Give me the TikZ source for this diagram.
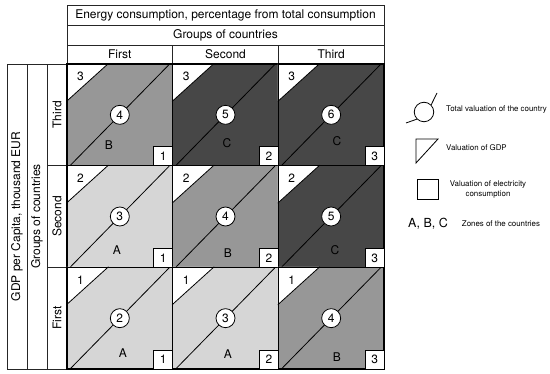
\documentclass[tikz,border=0pt]{standalone}
\usepackage{fontspec}
\setmainfont{TeX Gyre Heros}
\usetikzlibrary{calc}
\definecolor{lightz}{HTML}{D6D6D6}
\definecolor{midz}{HTML}{979797}
\definecolor{darkz}{HTML}{474747}
\begin{document}
\begin{tikzpicture}[x=1pt,y=-1pt,
  hdrbox/.style={draw=black!85, line width=0.6pt, inner sep=0pt, font=\fontsize{12}{12}\selectfont},
  cellbox/.style={draw=black, line width=1.1pt, minimum width=105.67pt, minimum height=101.67pt, inner sep=0pt},
  diag/.style={draw=black, line width=0.8pt},
  numcircle/.style={circle, draw=black, line width=0.8pt, fill=white, minimum size=19pt, inner sep=0pt, font=\fontsize{12}{12}\selectfont},
  numbox/.style={draw=black, line width=0.8pt, fill=white, minimum size=19pt, inner sep=0pt, font=\fontsize{12}{12}\selectfont},
  celltxt/.style={inner sep=0pt, font=\fontsize{12}{12}\selectfont},
  legtxt/.style={inner sep=0pt, font=\fontsize{7.9}{9.5}\selectfont, align=center}]
\useasboundingbox[fill=white] (0,0) rectangle (550,374);

% header
\node[hdrbox, minimum width=317pt, minimum height=20pt] (h1) at (225.5,15) {Energy consumption, percentage from total consumption};
\node[hdrbox, minimum width=317pt, minimum height=20pt] (h2) at (225.5,35) {Groups of countries};
\node[hdrbox, minimum width=105.67pt, minimum height=19pt] (hc1) at (119.83,54.5) {First};
\node[hdrbox, minimum width=105.67pt, minimum height=19pt] (hc2) at (225.5,54.5) {Second};
\node[hdrbox, minimum width=105.67pt, minimum height=19pt] (hc3) at (331.17,54.5) {Third};

% left columns
\node[hdrbox, rotate=90, minimum width=305pt, minimum height=20pt] (v1) at (17,216.5) {GDP per Capita, thousand EUR};
\node[hdrbox, rotate=90, minimum width=305pt, minimum height=20pt] (v2) at (37,216.5) {Groups of countries};
\node[hdrbox, rotate=90, minimum width=101.67pt, minimum height=20pt] (vr1) at (57,114.83) {Third};
\node[hdrbox, rotate=90, minimum width=101.67pt, minimum height=20pt] (vr2) at (57,216.5) {Second};
\node[hdrbox, rotate=90, minimum width=101.67pt, minimum height=20pt] (vr3) at (57,318.17) {First};

% cells
\foreach \r/\c/\col/\n/\t/\b/\z/\lx/\ly in {
  1/1/midz/4/3/1/B/109/145, 1/2/darkz/5/3/2/C/227/143, 1/3/darkz/6/3/3/C/337/141,
  2/1/lightz/3/2/1/A/117/250, 2/2/midz/4/2/2/B/228/253, 2/3/darkz/5/2/3/C/335/250,
  3/1/lightz/2/1/1/A/123/353, 3/2/lightz/3/1/2/A/228/354, 3/3/midz/4/1/3/B/337/357}{
  \node[cellbox, fill=\col] (cell\r\c) at ({67+(\c-0.5)*105.67},{64+(\r-0.5)*101.67}) {};
  \fill[white] (cell\r\c.north west) -- ++(42,0) -- ++(-42,38) -- cycle;
  \draw[diag] ($(cell\r\c.north west)+(42,0)$) -- ($(cell\r\c.north west)+(0,38)$);
  \draw[diag] ($(cell\r\c.south west)+(4,-1)$) -- ($(cell\r\c.north east)+(-4,1)$);
  \node[cellbox] (frame\r\c) at (cell\r\c.center) {};
  \node[numcircle] (circ\r\c) at (cell\r\c.center) {\n};
  \node[numbox, anchor=south east] (box\r\c) at (cell\r\c.south east) {\b};
  \node[celltxt] (tri\r\c) at ($(cell\r\c.north west)+(14,13)$) {\t};
  \node[celltxt] (zone\r\c) at (\lx,\ly) {\z};
}

% legend
\node[circle, draw=black, line width=0.8pt, minimum size=19.5pt, inner sep=0pt] (lc) at (424,112) {};
\coordinate (lca) at (406,123);
\coordinate (lcb) at (437,93);
\draw[line width=0.8pt] (lca) -- (lc.225);
\draw[line width=0.8pt] (lc.45) -- (lcb);
\node[legtxt, anchor=west] (lct) at (446,109) {Total valuation of the country};

\coordinate (lt1) at (416,139);
\coordinate (lt2) at (438,139);
\coordinate (lt3) at (416,163);
\draw[line width=0.8pt] (lt1) -- (lt2) -- (lt3) -- cycle;
\node[legtxt, anchor=west] (ltt) at (446,148) {Valuation of GDP};

\node[draw=black, line width=0.8pt, minimum width=21pt, minimum height=20pt, inner sep=0pt] (lsq) at (427.5,189) {};
\node[legtxt] (lst) at (488,189.5) {Valuation of electricity\\consumption};

\node[inner sep=0pt, font=\fontsize{12.5}{12.5}\selectfont] (lz) at (428,224) {A, B, C};
\node[legtxt] (lzt) at (501,224) {Zones of the countries};
\end{tikzpicture}
\end{document}
